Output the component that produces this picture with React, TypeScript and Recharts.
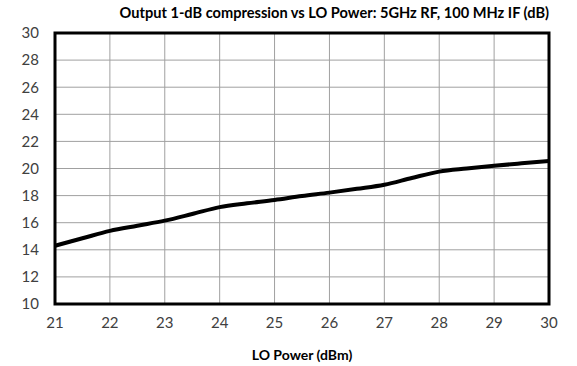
import React from 'react';
import { LineChart, Line, XAxis, YAxis, CartesianGrid, ReferenceArea } from 'recharts';

const loPower = [21, 21.5, 22, 22.5, 23, 23.5, 24, 24.5, 25, 25.5, 26, 26.5, 27, 27.5, 28, 28.5, 29, 29.5, 30];
const op1dB = [14.3, 14.85, 15.4, 15.78, 16.15, 16.64, 17.15, 17.43, 17.68, 17.97, 18.22, 18.5, 18.8, 19.3, 19.77, 20.0, 20.2, 20.38, 20.55];
const xTicks = [21, 22, 23, 24, 25, 26, 27, 28, 29, 30];
const yTicks = [10, 12, 14, 16, 18, 20, 22, 24, 26, 28, 30];
const title = 'Output 1-dB compression vs LO Power: 5GHz RF, 100 MHz IF (dB)';
const xLabel = 'LO Power (dBm)';

const data = loPower.map((x, i) => ({ x, y: op1dB[i] }));
const FONT = 'Lato, "Open Sans", sans-serif';

export default function App() {
  return (
    <div style={{ position: 'absolute', left: 0, top: 0, width: 577, height: 366, background: '#fff', fontFamily: FONT }}>
      <div style={{ position: 'absolute', right: 28, top: 4, textAlign: 'right', fontSize: 14.6, fontWeight: 700, color: '#000', whiteSpace: 'nowrap' }}>
        {title}
      </div>
      <LineChart width={577} height={366} data={data} margin={{ top: 33, right: 28, bottom: 0, left: 0 }}>
        <CartesianGrid stroke="#a0a0a0" strokeWidth={1} />
        <XAxis
          dataKey="x"
          type="number"
          domain={[21, 30]}
          ticks={xTicks}
          interval={0}
          axisLine={false}
          tickLine={false}
          tickSize={0}
          tickMargin={13}
          height={62}
          tick={{ fill: '#404040', fontSize: 15, fontFamily: FONT }}
        />
        <YAxis
          type="number"
          domain={[10, 30]}
          ticks={yTicks}
          interval={0}
          axisLine={false}
          tickLine={false}
          tickSize={0}
          tickMargin={16}
          width={55}
          tick={{ fill: '#404040', fontSize: 15, fontFamily: FONT }}
        />
        <ReferenceArea x1={21} x2={30} y1={10} y2={30} fill="none" stroke="#000" strokeWidth={3} />
        <Line type="monotone" dataKey="y" stroke="#000" strokeWidth={4} dot={false} isAnimationActive={false} />
      </LineChart>
      <div style={{ position: 'absolute', left: 55, width: 494, top: 346, textAlign: 'center', fontSize: 14, fontWeight: 700, color: '#000' }}>
        {xLabel}
      </div>
    </div>
  );
}
